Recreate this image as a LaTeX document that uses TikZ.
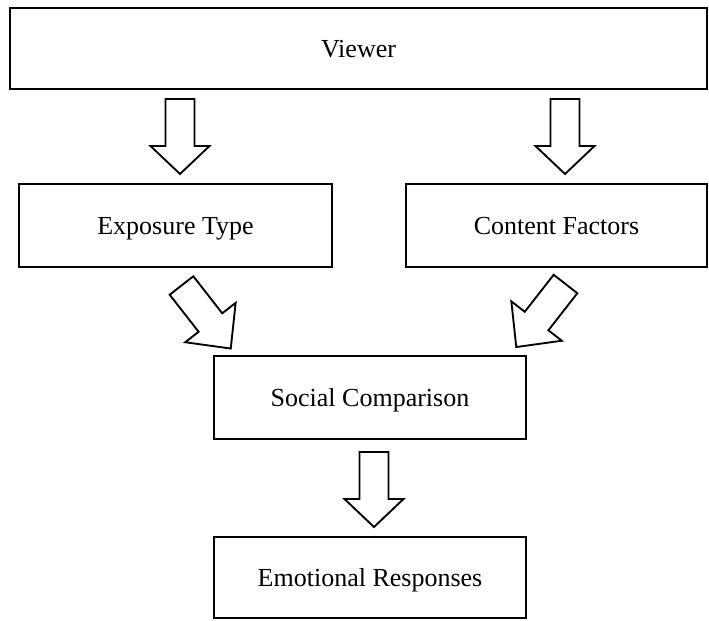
\documentclass[tikz,border=0pt]{standalone}
\usepackage{fontspec}
\setmainfont{Liberation Serif}
\begin{document}
\begin{tikzpicture}[x=0.75pt,y=-0.75pt,
  box/.style={draw, line width=1.8pt, inner sep=0pt, text height=13.6pt, text depth=0pt, font=\fontsize{19.5}{23}\selectfont},
  arrowline/.style={draw, line width=1.4pt, line join=miter, fill=white},
  downarrow/.pic={\path[arrowline] (-14.5,0) -- (14.5,0) -- (14.5,47) -- (29.5,47) -- (0,75) -- (-29.5,47) -- (-14.5,47) -- cycle;},
  diagarrow/.pic={\path[arrowline] (-15,0) -- (15,0) -- (15,47) -- (32,47) -- (0,80) -- (-32,47) -- (-15,47) -- cycle;}]
\useasboundingbox (0,0) rectangle (709,620);
\node[box, minimum width=522.75pt, minimum height=60.75pt] (viewer) at (358.5,48.5) {Viewer};
\node[box, minimum width=234.75pt, minimum height=62.25pt] (exposure) at (175.5,225.5) {Exposure Type};
\node[box, minimum width=225.75pt, minimum height=62.25pt] (content) at (556.5,225.5) {Content Factors};
\node[box, minimum width=234pt, minimum height=62.25pt] (social) at (370,397.5) {Social Comparison};
\node[box, minimum width=234pt, minimum height=60.75pt] (emotional) at (370,577.5) {Emotional Responses};
\pic at (180,99) {downarrow};
\pic at (565,99) {downarrow};
\pic[rotate=38] at (181.5,285.5) {diagarrow};
\pic[rotate=-38] at (565.5,284) {diagarrow};
\pic at (374,452) {downarrow};
\end{tikzpicture}
\end{document}
